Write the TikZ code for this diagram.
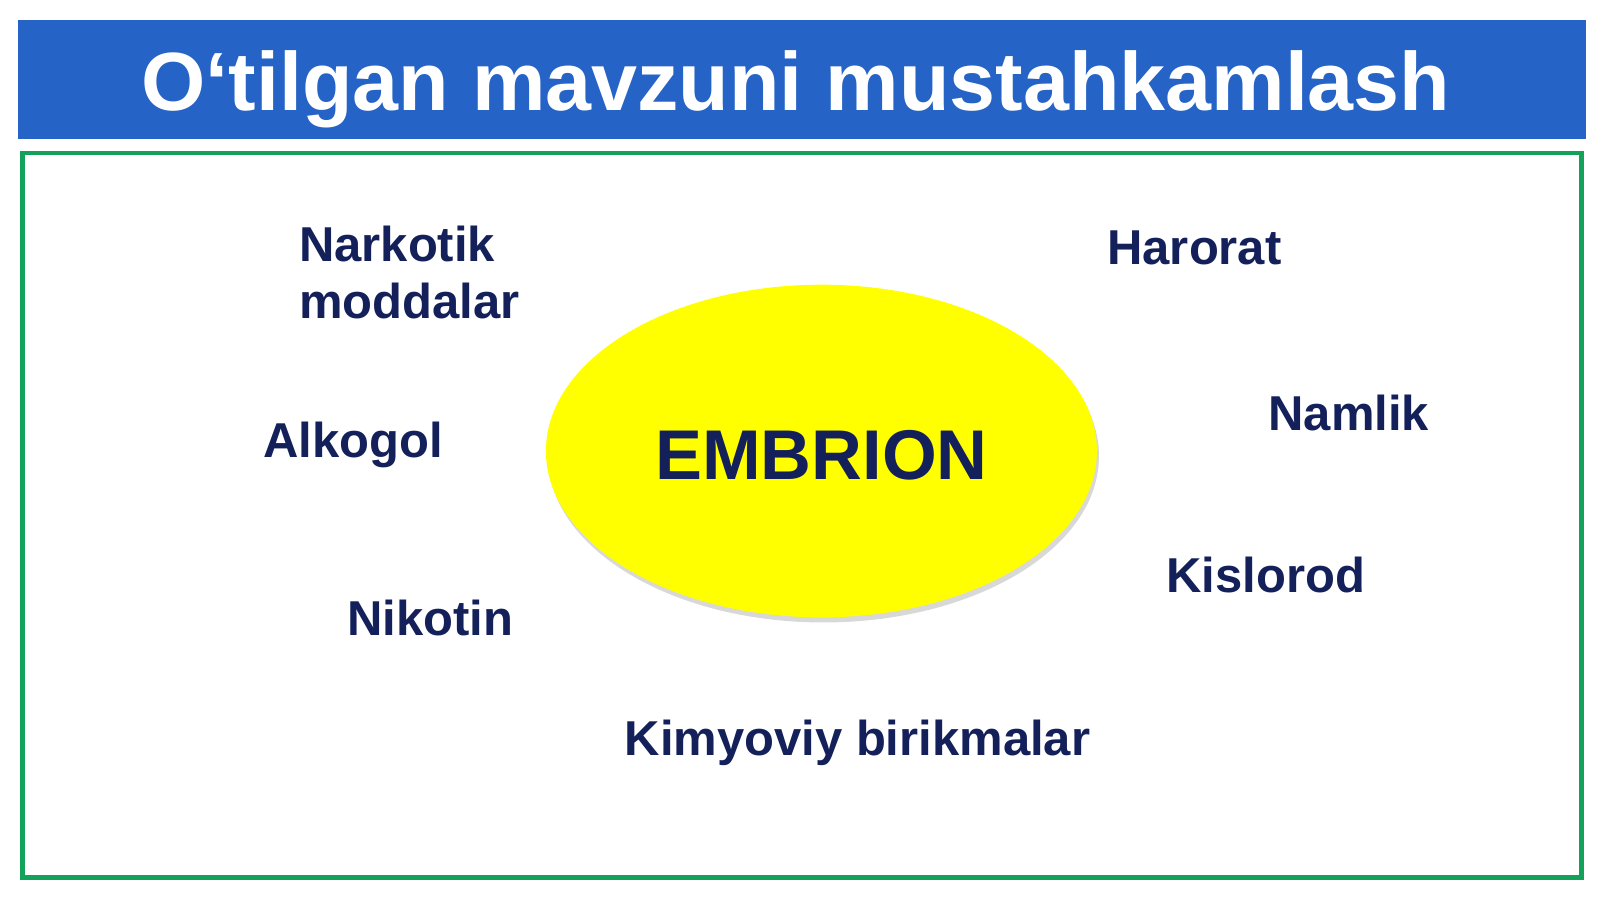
\documentclass[tikz,border=0pt]{standalone}
\usepackage{fontspec}
\setmainfont{Liberation Sans}
\usetikzlibrary{shadows,shapes.geometric}
\definecolor{titleblue}{HTML}{2563C7}
\definecolor{framegreen}{HTML}{12A25A}
\definecolor{labelnavy}{HTML}{14205A}
\begin{document}
\begin{tikzpicture}[
        x=1pt, y=-1pt,
        titlen/.style={text=white, font=\fontsize{81}{90}\selectfont\bfseries, inner sep=0pt, anchor=base},
        factor/.style={text=labelnavy, font=\fontsize{48}{56}\selectfont\bfseries, inner sep=0pt, anchor=base west, align=left},
        centre/.style={ellipse, fill={rgb,1:red,1;green,1;blue,0}, minimum width=540pt, minimum height=326pt, inner sep=0pt,
            drop shadow={shadow xshift=2pt, shadow yshift=-5pt, opacity=0.3, fill=gray}},
    ]
    \useasboundingbox (0,0) rectangle (1568,881);
    \fill[white] (0,0) rectangle (1568,881);
    % title bar and frame
    \fill[titleblue] (18,20) rectangle (1554,136);
    \draw[framegreen, line width=4.5pt] (22,150) rectangle (1550,860);
    \node[titlen](title) at (780,108){O‘tilgan mavzuni mustahkamlash};
    % centre
    \node[centre](embrion) at (805,442){};
    \node[text=labelnavy, font=\fontsize{69}{77}\selectfont\bfseries, inner sep=0pt, anchor=base](embriontext) at (805,470){EMBRION};
    % factors
    \node[factor](narkotik) at (293,312){Narkotik\\moddalar};
    \node[factor](alkogol) at (258,448){Alkogol};
    \node[factor](nikotin) at (340,623){Nikotin};
    \node[factor](kimyoviy) at (612,740){Kimyoviy birikmalar};
    \node[factor](harorat) at (1085,259){Harorat};
    \node[factor](namlik) at (1243,422){Namlik};
    \node[factor](kislorod) at (1143,581){Kislorod};
    \end{tikzpicture}
\end{document}
